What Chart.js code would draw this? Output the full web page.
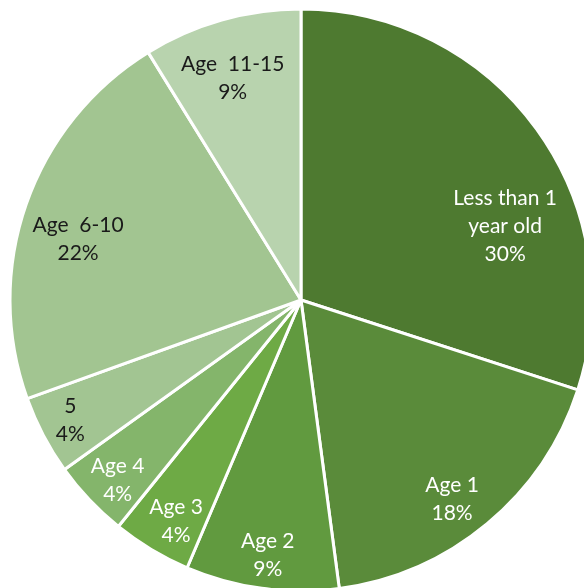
<!DOCTYPE html>
<html>
<head>
<meta charset="utf-8">
<script src="https://cdn.jsdelivr.net/npm/chart.js@4"></script>
<style>
    html, body { margin: 0; padding: 0; background: #fff; overflow: hidden; }
    #wrap { width: 584px; height: 588px; position: relative; }
</style>
</head>
<body>
<div id="wrap"><canvas id="ageChart" width="584" height="588"></canvas></div>
<script>
// Data (percent of total)
const categories = ['Less than 1|year old', 'Age 1', 'Age 2', 'Age 3', 'Age 4', '5', 'Age  6-10', 'Age  11-15'];
const shares = [30, 17.9, 8.5, 4.4, 4.3, 4.4, 21.7, 8.8];

// Slice styling
const sliceColors = ['#4e7a30', '#5a8b3a', '#619a3f', '#6eaa45', '#84b56b', '#a2c592', '#a2c591', '#b8d3ae'];
const labelColors = ['#fff', '#fff', '#fff', '#fff', '#fff', '#1a1a1a', '#1a1a1a', '#1a1a1a'];
// label placement: angle shift from slice middle (deg), distance as fraction of radius
const labelShift = [16.1, 2.6, -0.3, -1.5, -1.1, 0.2, -4.0, -1.3];
const labelDist = [0.746, 0.859, 0.883, 0.873, 0.883, 0.894, 0.794, 0.797];

// Draw the percentage labels inside each slice
const sliceLabels = {
    id: 'sliceLabels',
    afterDatasetsDraw(chart) {
        const ctx = chart.ctx;
        const arcs = chart.getDatasetMeta(0).data;
        ctx.save();
        ctx.font = '21px Lato, "Open Sans", sans-serif';
        ctx.textAlign = 'center';
        ctx.textBaseline = 'middle';
        arcs.forEach((arc, i) => {
            const p = arc.getProps(['x', 'y', 'startAngle', 'endAngle', 'outerRadius'], true);
            const mid = (p.startAngle + p.endAngle) / 2 + labelShift[i] * Math.PI / 180;
            const r = p.outerRadius * labelDist[i];
            const cx = p.x + Math.cos(mid) * r;
            const cy = p.y + Math.sin(mid) * r;
            const lines = categories[i].split('|').concat([Math.round(shares[i]) + '%']);
            const lh = 28;
            ctx.fillStyle = labelColors[i];
            lines.forEach((line, k) => {
                ctx.fillText(line, cx, cy + (k - (lines.length - 1) / 2) * lh);
            });
        });
        ctx.restore();
    }
};

const chartCtx = document.getElementById('ageChart').getContext('2d');
new Chart(chartCtx, {
    type: 'pie',
    data: {
        labels: categories.map(c => c.replace('|', ' ')),
        datasets: [{
            data: shares,
            backgroundColor: sliceColors,
            borderColor: '#ffffff',
            borderWidth: 3,
            clip: false
        }]
    },
    options: {
        responsive: false,
        animation: false,
        radius: 291,
        layout: {
            padding: { left: 18, top: 12, right: 0, bottom: 0 }
        },
        plugins: {
            legend: { display: false },
            tooltip: { enabled: false }
        }
    },
    plugins: [sliceLabels]
});
</script>
</body>
</html>
